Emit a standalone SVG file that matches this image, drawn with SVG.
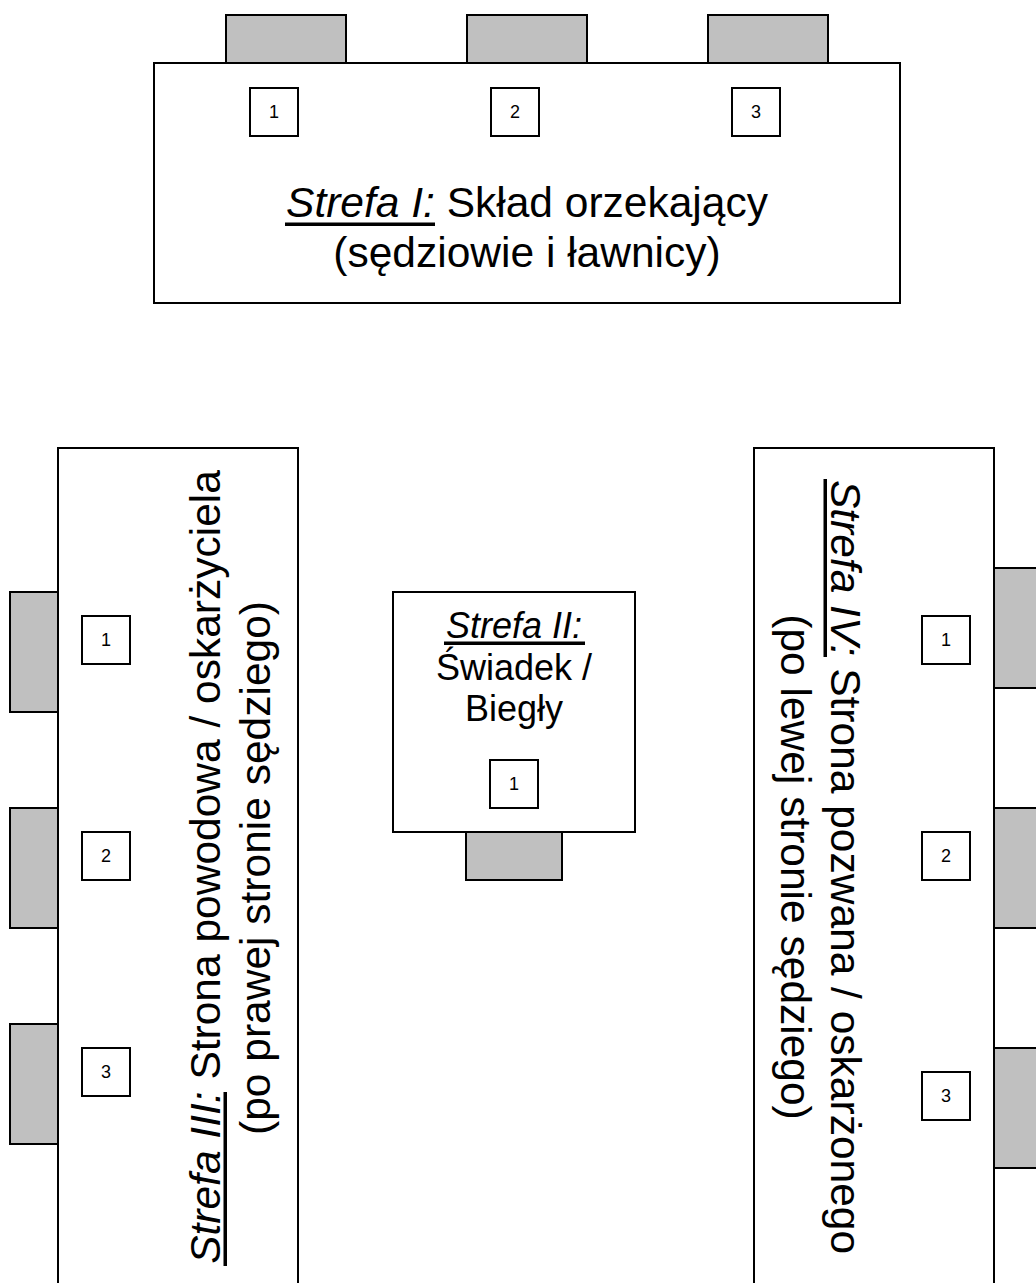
<svg xmlns="http://www.w3.org/2000/svg" width="1036" height="1283" viewBox="0 0 1036 1283">
<style>
.tab{fill:#c0c0c0;stroke:#000;stroke-width:2}
.zone{fill:#fff;stroke:#000;stroke-width:2}
.seat{fill:#fff;stroke:#000;stroke-width:2}
.num{font-family:"Liberation Sans",Arial,sans-serif;font-size:18px;fill:#000;text-anchor:middle}
.big{font-family:"Liberation Sans",Arial,sans-serif;font-size:42.5px;fill:#000}
.mid{font-family:"Liberation Sans",Arial,sans-serif;font-size:36px;fill:#000;text-anchor:middle}
.lbl{font-style:italic}
.ul{fill:#000}
</style>
<rect width="1036" height="1283" fill="#fff"/>

<g id="strefa-1">
  <rect class="tab" x="226" y="15" width="120" height="48"/>
  <rect class="tab" x="467" y="15" width="120" height="48"/>
  <rect class="tab" x="708" y="15" width="120" height="48"/>
  <rect class="zone" x="154" y="63" width="746" height="240"/>
  <rect class="seat" x="250" y="88" width="48" height="48"/>
  <rect class="seat" x="491" y="88" width="48" height="48"/>
  <rect class="seat" x="732" y="88" width="48" height="48"/>
  <text class="num" x="274" y="118">1</text>
  <text class="num" x="515" y="118">2</text>
  <text class="num" x="756" y="118">3</text>
  <text class="big" x="527" y="217" font-size="43" text-anchor="middle"><tspan class="lbl">Strefa I:</tspan> Skład orzekający</text>
  <rect class="ul" x="285" y="222.5" width="150" height="3.5"/>
  <text class="big" x="527" y="267" font-size="43" text-anchor="middle">(sędziowie i ławnicy)</text>
</g>

<g id="strefa-2">
  <rect class="tab" x="466" y="832" width="96" height="48"/>
  <rect class="zone" x="393" y="592" width="242" height="240"/>
  <rect class="seat" x="490" y="760" width="48" height="48"/>
  <text class="num" x="514" y="790">1</text>
  <text class="mid" x="514" y="638"><tspan class="lbl">Strefa II:</tspan></text>
  <rect class="ul" x="444" y="641.5" width="141" height="3.5"/>
  <text class="mid" x="514" y="680">Świadek /</text>
  <text class="mid" x="514" y="721">Biegły</text>
</g>

<g id="strefa-3">
  <rect class="tab" x="10" y="592" width="48" height="120"/>
  <rect class="tab" x="10" y="808" width="48" height="120"/>
  <rect class="tab" x="10" y="1024" width="48" height="120"/>
  <rect class="zone" x="58" y="448" width="240" height="860"/>
  <rect class="seat" x="82" y="616" width="48" height="48"/>
  <rect class="seat" x="82" y="832" width="48" height="48"/>
  <rect class="seat" x="82" y="1048" width="48" height="48"/>
  <text class="num" x="106" y="646">1</text>
  <text class="num" x="106" y="862">2</text>
  <text class="num" x="106" y="1078">3</text>
  <g transform="translate(220,867) rotate(-90)">
    <text class="big" x="0" y="0" text-anchor="middle"><tspan class="lbl">Strefa III:</tspan> Strona powodowa / oskarżyciela</text>
    <rect class="ul" x="-399" y="3.5" width="174" height="3.5"/>
  </g>
  <text class="big" text-anchor="middle" transform="translate(270,868) rotate(-90)">(po prawej stronie sędziego)</text>
</g>

<g id="strefa-4">
  <rect class="tab" x="994" y="568" width="48" height="120"/>
  <rect class="tab" x="994" y="808" width="48" height="120"/>
  <rect class="tab" x="994" y="1048" width="48" height="120"/>
  <rect class="zone" x="754" y="448" width="240" height="860"/>
  <rect class="seat" x="922" y="616" width="48" height="48"/>
  <rect class="seat" x="922" y="832" width="48" height="48"/>
  <rect class="seat" x="922" y="1072" width="48" height="48"/>
  <text class="num" x="946" y="646">1</text>
  <text class="num" x="946" y="862">2</text>
  <text class="num" x="946" y="1102">3</text>
  <g transform="translate(831,867) rotate(90)">
    <text class="big" x="0" y="0" text-anchor="middle"><tspan class="lbl">Strefa IV:</tspan> Strona pozwana / oskarżonego</text>
    <rect class="ul" x="-388" y="4" width="178" height="3.5"/>
  </g>
  <text class="big" text-anchor="middle" transform="translate(781,867) rotate(90)">(po lewej stronie sędziego)</text>
</g>

<g id="connectors"></g>
</svg>
